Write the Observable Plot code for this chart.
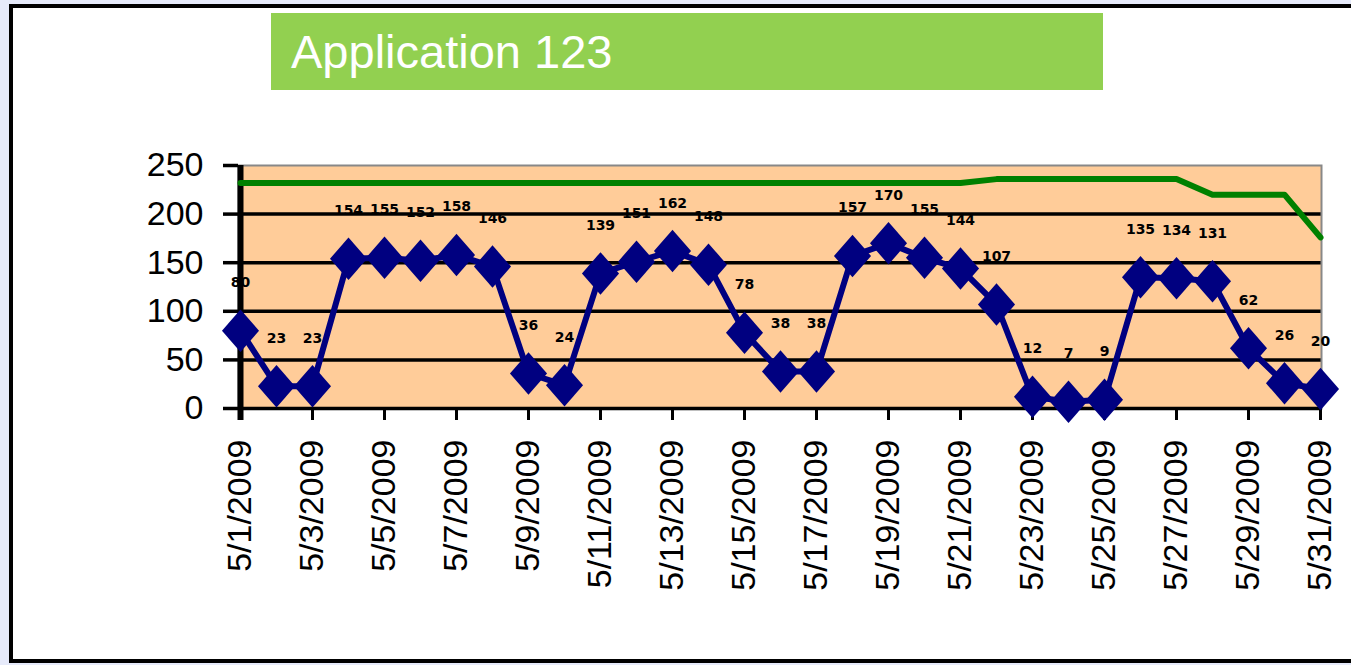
<!DOCTYPE html>
<html>
<head>
<meta charset="utf-8">
<script src="https://cdn.jsdelivr.net/npm/d3@7"></script>
<script src="https://cdn.jsdelivr.net/npm/@observablehq/plot@0.6"></script>
<style>
  html, body { margin: 0; padding: 0; }
  body { width: 1351px; height: 665px; overflow: hidden; position: relative;
         background: #e6eafa; font-family: "Liberation Sans", Arial, sans-serif; }
  #frame { position: absolute; left: 9px; top: 4px; width: 1350px; height: 651px;
           border: 4px solid #000; border-right: none; background: #fff; box-sizing: content-box; }
  #title { position: absolute; left: 271px; top: 13px; width: 832px; height: 77px;
           background: #92d050; color: #fff; font-size: 47px; line-height: 77px;
           padding-left: 20px; box-sizing: border-box; font-family: "Liberation Sans", Arial, sans-serif; }
  #chart { position: absolute; left: 0; top: 0; }
</style>
</head>
<body>
<div id="frame"></div>
<div id="title">Application 123</div>
<div id="chart"></div>
<script>
const dates = ["5/1/2009","5/2/2009","5/3/2009","5/4/2009","5/5/2009","5/6/2009","5/7/2009","5/8/2009",
  "5/9/2009","5/10/2009","5/11/2009","5/12/2009","5/13/2009","5/14/2009","5/15/2009","5/16/2009",
  "5/17/2009","5/18/2009","5/19/2009","5/20/2009","5/21/2009","5/22/2009","5/23/2009","5/24/2009",
  "5/25/2009","5/26/2009","5/27/2009","5/28/2009","5/29/2009","5/30/2009","5/31/2009"];
const values = [80,23,23,154,155,152,158,146,36,24,139,151,162,148,78,38,38,157,170,155,144,107,12,7,9,135,134,131,62,26,20];
const threshold = [232,232,232,232,232,232,232,232,232,232,232,232,232,232,232,232,232,232,232,232,232,
  236,236,236,236,236,236,220,220,220,176];
const tickLabels = dates.filter((d, i) => i % 2 === 0);
const yTicks = [0, 50, 100, 150, 200, 250];
const gridValues = [50, 100, 150, 200];

const data = dates.map((d, i) => ({date: d, value: values[i], threshold: threshold[i]}));

const diamond = {
  draw(context, size) {
    const r = Math.sqrt(size / Math.PI);
    const w = r * 1.03, h = r * 1.18;
    context.moveTo(0, -h);
    context.lineTo(w, 0);
    context.lineTo(0, h);
    context.lineTo(-w, 0);
    context.closePath();
  }
};

const chart = Plot.plot({
  width: 1351,
  height: 665,
  marginLeft: 238,
  marginRight: 30,
  marginTop: 165,
  marginBottom: 257,
  style: {background: "transparent", fontFamily: "Liberation Sans, Arial, sans-serif", color: "#000", overflow: "visible"},
  x: {type: "point", domain: dates, padding: 0},
  y: {domain: [0, 250]},
  marks: [
    Plot.frame({fill: "#ffcc99"}),
    Plot.ruleY(gridValues, {stroke: "#000", strokeWidth: 3.5}),
    Plot.frame({stroke: "#888", strokeWidth: 2}),
    Plot.axisY({ticks: yTicks, tickSize: 15, tickPadding: 20, fontSize: 34, strokeWidth: 3.5, label: null}),
    Plot.axisX({ticks: tickLabels, tickSize: 12, tickPadding: 19, tickRotate: -90, fontSize: 34, strokeWidth: 3, label: null}),
    Plot.ruleY([0], {stroke: "#000", strokeWidth: 3.5}),
    Plot.ruleX([dates[0]], {stroke: "#000", strokeWidth: 6, insetBottom: -12}),
    Plot.line(data, {x: "date", y: "threshold", stroke: "#008000", strokeWidth: 6}),
    Plot.line(data, {x: "date", y: "value", stroke: "#000080", strokeWidth: 6}),
    Plot.dot(data, {x: "date", y: "value", symbol: diamond, r: 18, fill: "#000080", stroke: "none"}),
    Plot.text(data, {x: "date", y: "value", text: d => String(d.value), dy: -48, fontSize: 14, fontWeight: "bold", fill: "#000", fontFamily: "DejaVu Sans, sans-serif"})
  ]
});
document.getElementById("chart").appendChild(chart);
</script>
</body>
</html>
